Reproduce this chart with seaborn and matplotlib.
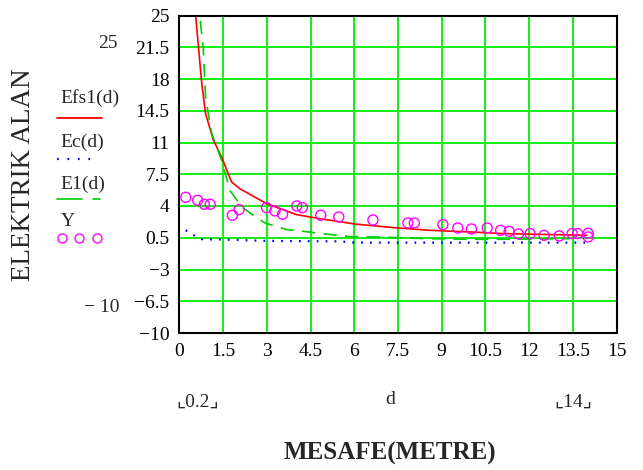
import matplotlib
matplotlib.use("Agg")
import matplotlib.pyplot as plt
import seaborn as sns
import numpy as np
from matplotlib.lines import Line2D

# ---- data ----
d_efs1 = [0.50, 0.56, 0.77, 0.90, 1.17, 1.45, 1.79, 2.08, 2.99, 4.02, 4.82, 6.08, 7.34, 8.59, 9.97, 11.1, 12.25, 13.97]
efs1 = [28.0, 25.0, 17.5, 14.2, 11.25, 9.41, 6.65, 5.9, 4.26, 3.05, 2.6, 1.99, 1.62, 1.32, 1.14, 0.96, 0.88, 0.77]

d_e1 = [0.70, 0.73, 0.82, 0.90, 1.11, 1.45, 1.74, 2.14, 2.48, 2.94, 3.68, 4.14, 4.88, 5.97, 6.77, 8.48, 9.97, 11.1, 13.4]
e1 = [27.0, 24.1, 21.5, 16.0, 12.0, 9.04, 5.7, 3.9, 3.1, 2.13, 1.4, 1.25, 0.96, 0.59, 0.59, 0.4, 0.33, 0.33, 0.4]

d_ec = [0.22, 0.50, 0.79, 1.5, 3.0, 5.5, 6.0, 9.0, 14.0]
ec = [1.32, 0.77, 0.33, 0.30, 0.15, 0.10, -0.04, -0.04, -0.04]

d_y = [0.22, 0.63, 0.86, 1.06, 1.82, 2.05, 2.99, 3.28, 3.54, 4.03, 4.22, 4.85, 5.47, 6.64,
       7.84, 8.06, 9.04, 9.55, 10.02, 10.56, 11.02, 11.31, 11.63, 12.03, 12.51, 13.03,
       13.47, 13.66, 14.02, 14.02]
y_meas = [4.96, 4.63, 4.19, 4.19, 2.98, 3.6, 3.82, 3.46, 3.09, 4.0, 3.82, 2.98, 2.79, 2.46,
          2.13, 2.13, 1.95, 1.58, 1.47, 1.58, 1.32, 1.21, 0.92, 0.96, 0.77, 0.70,
          0.96, 0.96, 1.0, 0.59]

x_ticks = [0, 1.5, 3, 4.5, 6, 7.5, 9, 10.5, 12, 13.5, 15]
x_tick_labels = ["0", "1.5", "3", "4.5", "6", "7.5", "9", "10.5", "12", "13.5", "15"]
y_ticks = [-10, -6.5, -3, 0.5, 4, 7.5, 11, 14.5, 18, 21.5, 25]
y_tick_labels = ["\u221210", "\u22126.5", "\u22123", "0.5", "4", "7.5", "11", "14.5", "18", "21.5", "25"]
legend_labels = ["Efs1(d)", "Ec(d)", "E1(d)", "Y"]

RED = "#ff0000"
BLUE = "#0000ff"
GREEN = "#00cc00"
MAG = "#ff00ff"
GRID = "#00ee00"

sns.set_theme(style="white")
plt.rcParams["font.family"] = ["Liberation Serif", "DejaVu Serif", "DejaVu Sans"]

W, H = 643, 470
fig = plt.figure(figsize=(W / 100, H / 100), dpi=100)

def fx(x):
    return x / W

def fy(y):
    return 1 - y / H

FS = 14

ax = fig.add_axes([fx(179.3), fy(333), fx(616.7) - fx(179.3), fy(15.5) - fy(333)])

sns.lineplot(x=d_efs1, y=efs1, ax=ax, color=RED, lw=1.2, sort=False, estimator=None)
sns.lineplot(x=d_e1, y=e1, ax=ax, color=GREEN, lw=1.2, sort=False, estimator=None)
sns.lineplot(x=d_ec, y=ec, ax=ax, color=BLUE, lw=1.6, sort=False, estimator=None)
lines = ax.get_lines()
lines[1].set_dashes((8, 5))
lines[2].set_dashes((0.8, 3.2))
sns.scatterplot(x=d_y, y=y_meas, ax=ax, marker="o", s=52, facecolors="none",
                edgecolor=MAG, linewidth=1.0, zorder=5)

ax.set_xlim(0, 15)
ax.set_ylim(-10, 25)
ax.set_xticks(x_ticks)
ax.set_xticklabels(x_tick_labels)
ax.set_yticks(y_ticks)
ax.set_yticklabels(y_tick_labels)
ax.tick_params(length=0, labelsize=FS, colors="black", pad=7)
ax.grid(True, color=GRID, lw=1.3)
ax.set_axisbelow(True)
for s in ax.spines.values():
    s.set_color("black")
    s.set_linewidth(1.5)
ax.set_facecolor("white")

# Mathcad-style limit labels and axis titles
fig.text(fx(118), fy(43), "25", ha="right", va="center", fontsize=FS)
fig.text(fx(120), fy(308), "\u2212 10", ha="right", va="center", fontsize=FS)
fig.text(fx(24), fy(175), "ELEKTRIK ALAN", rotation=90, ha="center", va="center", fontsize=19.5)
fig.text(fx(176), fy(402), "\u231e0.2\u231f", ha="left", va="center", fontsize=FS,
         family=["Liberation Serif", "DejaVu Sans"])
fig.text(fx(390), fy(400), "d", ha="center", va="center", fontsize=FS)
fig.text(fx(592), fy(402), "\u231e14\u231f", ha="right", va="center", fontsize=FS,
         family=["Liberation Serif", "DejaVu Sans"])
fig.text(fx(390), fy(453), "MESAFE(METRE)", ha="center", va="center", fontsize=18,
         fontweight="bold")

# legend (Mathcad-style trace list)
fig.text(fx(60), fy(98), legend_labels[0], ha="left", va="center", fontsize=FS)
fig.add_artist(Line2D([fx(57), fx(102)], [fy(118), fy(118)], color=RED, lw=1.3))
fig.text(fx(60), fy(142), legend_labels[1], ha="left", va="center", fontsize=FS)
fig.add_artist(Line2D([fx(57), fx(97)], [fy(159), fy(159)], color=BLUE, lw=1.6,
                      dashes=(0.8, 3.9)))
fig.text(fx(60), fy(184), legend_labels[2], ha="left", va="center", fontsize=FS)
fig.add_artist(Line2D([fx(57), fx(82)], [fy(199), fy(199)], color=GREEN, lw=1.2))
fig.add_artist(Line2D([fx(93), fx(100)], [fy(199), fy(199)], color=GREEN, lw=1.2))
fig.text(fx(61), fy(222), legend_labels[3], ha="left", va="center", fontsize=FS)
fig.add_artist(Line2D([fx(62), fx(79), fx(97)], [fy(238)] * 3, ls="none", marker="o",
                      ms=6.5, mfc="none", mec=MAG, mew=1.0))

fig.savefig("out.png", dpi=100)
